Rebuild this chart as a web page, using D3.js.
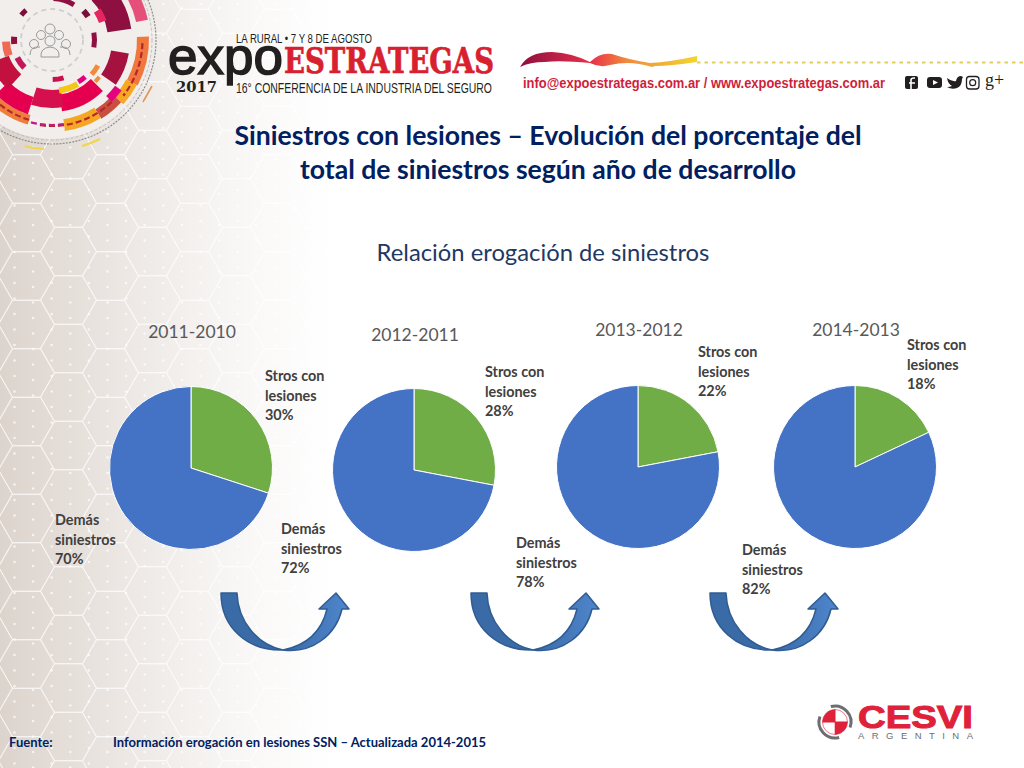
<!DOCTYPE html>
<html>
<head>
<meta charset="utf-8">
<title>Siniestros con lesiones</title>
<script src="https://cdn.jsdelivr.net/npm/d3@7"></script>
<style>
html, body { margin: 0; padding: 0; background: #fff; }
svg { display: block; font-family: Lato, "Open Sans", sans-serif; }
</style>
</head>
<body>
<svg id="chart" width="1024" height="768"></svg>
<script>
// chart values
var periods = ['2011-2010', '2012-2011', '2013-2012', '2014-2013'];
var stros_lesiones = [30, 28, 22, 18];
var demas_siniestros = [70, 72, 78, 82];
var series_names = [['Stros con', 'lesiones'], ['Demás', 'siniestros']];
var series_colors = ['#70ad47', '#4472c4'];

// where things sit on the slide
var pie_x = [191, 414, 638, 855];
var pie_y = [468, 470, 467, 467];
var period_y = [338, 341, 336, 336];
var stros_label = [[265, 381], [485, 377], [698, 357], [907, 350]];
var demas_label = [[55, 525], [281, 534], [516, 548], [742, 555]];
var arrow_x = [0, 250, 489];
var radius = 81.5;

// emblem pieces: r0, r1, start deg, end deg, colour
var emblem_arcs = [
	// outer band
	[85, 97, 88, 118, '#f0783c'], [84, 96, 118, 132, '#f7a823'], [82, 93, 132, 148, '#c9503f'],
	[80, 92, 148, 172, '#f5a623'], [80, 90, 172, 196, '#f4f0ee'], [78, 88, 196, 226, '#ef7d3b'],
	[86, 98, 62, 78, '#e5507a'], [86, 97, 50, 62, '#e5268a'],
	// big blocks
	[56, 80, 45, 82, '#8e1040'], [60, 78, 100, 125, '#a5123f'], [55, 72, 135, 172, '#e5004f'],
	[50, 68, 170, 198, '#d6104f'], [60, 78, 198, 226, '#e5004f'], [46, 66, 222, 250, '#c2103f'],
	[64, 72, 248, 258, '#d6104f'],
	// small pieces
	[50, 58, 57, 70, '#e5265f'], [40, 45, 80, 100, '#8e1040'], [40, 46, 47, 57, '#7a0f3c'],
	[39, 44, 2, 32, '#8e1040'], [37, 42, 309, 319, '#7a0f3c'], [35, 41, 264, 275, '#8e1040'],
	[42, 50, 250, 268, '#ef6a55'], [36, 42, 225, 243, '#c2185b'], [37, 42, 163, 179, '#c8104e'],
	[48, 54, 150, 172, '#f5c518'], [50, 55, 119, 131, '#f08a3c'], [47, 52, 138, 148, '#e5007d'],
	[58, 62, 128, 134, '#f08a3c'], [78, 86, 126, 136, '#e5007d']
];
var emblem_dashes = [
	[90.5, 92, 128, '#b3272d'], [86, 136, 190, '#b3272d'], [83, 196, 228, '#b3272d'], [85, 172, 196, '#c2188b']
];
var emblem_x = 52, emblem_y = 40;

var svg = d3.select('#chart');
var defs = svg.append('defs');

var bg_grad = defs.append('linearGradient').attr('id', 'bg_grad');
bg_grad.append('stop').attr('offset', '0').attr('stop-color', '#dcd3cc');
bg_grad.append('stop').attr('offset', '0.35').attr('stop-color', '#ebe6e2');
bg_grad.append('stop').attr('offset', '0.7').attr('stop-color', '#f8f6f5');
bg_grad.append('stop').attr('offset', '1').attr('stop-color', '#ffffff');
svg.append('rect').attr('width', 330).attr('height', 768).attr('fill', 'url(#bg_grad)');

// hexagons and dots of the slide background
var back = svg.append('g').attr('stroke', '#fff').attr('fill', 'none').attr('stroke-opacity', 0.6);
var hex = d3.lineRadial().curve(d3.curveLinearClosed)
	.angle(function(d) { return d; }).radius(27.8);
var hex_angles = d3.range(6).map(function(i) { return Math.PI / 6 + i * Math.PI / 3; });
for (var c = -1; c < 9; c++) {
	for (var r = -1; r < 17; r++) {
		back.append('path')
			.attr('d', hex(hex_angles))
			.attr('transform', 'translate(' + (26.5 + 42 * c) + ',' + (179 + 48.5 * r + (c % 2 ? 24 : 0) - 194) + ')');
	}
}
for (var dx = 0; dx < 18; dx++) {
	for (var dy = 0; dy < 52; dy++) {
		back.append('circle').attr('cx', 14.5 + dx * 18.6).attr('cy', 4 + dy * 15.5 + (dx % 2 ? 4 : 0))
			.attr('r', 1.3).attr('fill', '#fff').attr('stroke', 'none').attr('fill-opacity', 0.7);
	}
}

// emblem, top left corner
var emblem = svg.append('g').attr('transform', 'translate(' + emblem_x + ',' + emblem_y + ')');
emblem.append('circle').attr('r', 99).attr('fill', '#f1eeec');
emblem.append('circle').attr('r', 104).attr('fill', 'none').attr('stroke', '#8c8c8c').attr('stroke-width', 1.2).attr('stroke-dasharray', '2 1.2');
emblem.append('circle').attr('r', 100).attr('fill', 'none').attr('stroke', '#b8b8b8').attr('stroke-width', 0.8).attr('stroke-dasharray', '3 2');
emblem.append('circle').attr('r', 31).attr('fill', 'none').attr('stroke', '#cfcfcf').attr('stroke-width', 1.8).attr('stroke-dasharray', '5 4');
var emblem_arc = d3.arc();
emblem.selectAll('path.piece').data(emblem_arcs).enter().append('path')
	.attr('class', 'piece')
	.attr('fill', function(d) { return d[4]; })
	.attr('d', function(d) {
		return emblem_arc({innerRadius: d[0], outerRadius: d[1], startAngle: d[2] * Math.PI / 180, endAngle: d[3] * Math.PI / 180});
	});
emblem_dashes.forEach(function(d) {
	var p = d3.path();
	p.arc(0, 0, d[0], (d[1] - 90) * Math.PI / 180, (d[2] - 90) * Math.PI / 180);
	emblem.append('path').attr('d', p.toString()).attr('fill', 'none').attr('stroke', d[3])
		.attr('stroke-width', 2.2).attr('stroke-dasharray', '6 3');
});
var people = emblem.append('g').attr('transform', 'translate(-2,3)').attr('fill', '#f1eeec').attr('stroke', '#9a9a9a').attr('stroke-width', 1);
[[0, -14, 5], [-9, -8, 4.5], [9, -8, 4.5], [-16, 1, 4.5], [16, 1, 4.5]].forEach(function(p) {
	people.append('circle').attr('cx', p[0]).attr('cy', p[1]).attr('r', p[2]);
});
people.append('path').attr('d', 'M-20,12 Q-20,3 -10,4 M20,12 Q20,3 10,4').attr('fill', 'none');
people.append('circle').attr('cx', 0).attr('cy', -2).attr('r', 5);
people.append('path').attr('d', 'M-9,14 Q-10,5 0,4 Q10,5 9,14 Z');
svg.append('path').attr('d', 'M143,102 L152,86').attr('stroke', '#dd9a5a').attr('stroke-width', 1.6);
svg.append('path').attr('d', 'M25,146 Q34,149 44,149 M82,146 Q92,143 100,139').attr('stroke', '#f2d44e').attr('stroke-width', 2).attr('fill', 'none');

// event logo
function fit(x, y, size, len, txt, fill, weight, family, adjust) {
	return svg.append('text').attr('x', x).attr('y', y).attr('font-size', size)
		.attr('font-family', family || 'Liberation Sans').attr('font-weight', weight || 'normal')
		.attr('fill', fill).attr('textLength', len).attr('lengthAdjust', adjust || 'spacingAndGlyphs').text(txt);
}
fit(236, 43, 12.5, 136, 'LA RURAL • 7 Y 8 DE AGOSTO', '#231f20');
fit(168, 74, 52, 115, 'expo', '#231f20').attr('stroke', '#231f20').attr('stroke-width', 1.5);
fit(284, 73, 36, 210, 'ESTRATEGAS', '#d9202f', 'bold', 'DejaVu Serif').attr('stroke', '#d9202f').attr('stroke-width', 0.7);
fit(176, 92, 14, 41, '2017', '#231f20', 'bold', 'DejaVu Serif');
fit(236, 92.5, 14.5, 256, '16° CONFERENCIA DE LA INDUSTRIA DEL SEGURO', '#231f20');

// contact band
var band = defs.append('linearGradient').attr('id', 'band');
band.append('stop').attr('offset', '0').attr('stop-color', '#8c1040');
band.append('stop').attr('offset', '0.4').attr('stop-color', '#e8304a');
band.append('stop').attr('offset', '0.6').attr('stop-color', '#f08a3c');
band.append('stop').attr('offset', '1').attr('stop-color', '#f2d62e');
svg.append('path').attr('d', 'M520,67 Q528,52 552,52 Q572,53 590,62 Q600,52 612,54 Q630,60 650,63 Q670,62 697,56 L697,62 Q670,66 655,66 L652,67 Q630,60 610,65 Q600,68 590,63 Q560,60 545,62 Q530,62 520,67 Z')
	.attr('fill', 'url(#band)');
svg.append('line').attr('x1', 697).attr('x2', 1024).attr('y1', 62.5).attr('y2', 62.5)
	.attr('stroke', '#e3cf5a').attr('stroke-width', 2).attr('stroke-dasharray', '3.5 4');
fit(523, 88, 15.5, 362, 'info@expoestrategas.com.ar / www.expoestrategas.com.ar', '#cf1f3c', 'bold');
var social = svg.append('g').attr('fill', '#231f20');
social.append('rect').attr('x', 905).attr('y', 76).attr('width', 13).attr('height', 13).attr('rx', 2);
social.append('path').attr('d', 'M911,89 L911,80 Q911,78 914,78 L915,78 M909,83 L915,83').attr('fill', 'none').attr('stroke', '#fff').attr('stroke-width', 1.6);
social.append('rect').attr('x', 927).attr('y', 77).attr('width', 15).attr('height', 11).attr('rx', 3);
social.append('path').attr('d', 'M933,80 L938,82.5 L933,85 Z').attr('fill', '#fff');
social.append('path').attr('d', 'M947,78 Q952,82 956,81 Q957,76 961,76 L963,77 L962,79 Q962,86 957,88 Q952,90 947,87 Q950,87 952,86 Q948,84 947,78 Z');
social.append('rect').attr('x', 966.5).attr('y', 76.5).attr('width', 12.5).attr('height', 12.5).attr('rx', 3).attr('fill', 'none').attr('stroke', '#231f20').attr('stroke-width', 1.3);
social.append('circle').attr('cx', 972.7).attr('cy', 82.7).attr('r', 3).attr('fill', 'none').attr('stroke', '#231f20').attr('stroke-width', 1.2);
social.append('text').attr('x', 985).attr('y', 86).attr('font-size', 18).attr('font-family', 'Liberation Serif').text('g+');

// headings
var navy = '#002060';
svg.append('text').attr('x', 548).attr('y', 145).attr('text-anchor', 'middle').attr('font-size', 26.6).attr('font-weight', 'bold').attr('fill', navy)
	.text('Siniestros con lesiones – Evolución del porcentaje del');
svg.append('text').attr('x', 548).attr('y', 179).attr('text-anchor', 'middle').attr('font-size', 26.6).attr('font-weight', 'bold').attr('fill', navy)
	.text('total de siniestros según año de desarrollo');
svg.append('text').attr('x', 543).attr('y', 261).attr('text-anchor', 'middle').attr('font-size', 23.8).attr('fill', '#1f3864')
	.text('Relación erogación de siniestros');

// one pie per period, green slice starts at twelve o'clock
var pie = d3.pie().sort(null).value(function(d) { return d; });
var arc = d3.arc().innerRadius(0).outerRadius(radius);

function multiline(x, y, lines) {
	var t = svg.append('text').attr('x', x).attr('y', y).attr('font-size', 14.4).attr('font-weight', 'bold').attr('fill', '#404040');
	lines.forEach(function(l, i) {
		t.append('tspan').attr('x', x).attr('dy', i == 0 ? 0 : 19.5).text(l);
	});
}

periods.forEach(function(period, i) {
	var g = svg.append('g').attr('transform', 'translate(' + pie_x[i] + ',' + pie_y[i] + ')');
	g.selectAll('path').data(pie([stros_lesiones[i], demas_siniestros[i]])).enter().append('path')
		.attr('d', arc)
		.attr('fill', function(d, j) { return series_colors[j]; })
		.attr('stroke', '#fff')
		.attr('stroke-width', 1);
	svg.append('text').attr('x', pie_x[i] + 1).attr('y', period_y[i]).attr('text-anchor', 'middle')
		.attr('font-size', 17.5).attr('fill', '#595959').text(period);
	multiline(stros_label[i][0], stros_label[i][1], series_names[0].concat(stros_lesiones[i] + '%'));
	multiline(demas_label[i][0], demas_label[i][1], series_names[1].concat(demas_siniestros[i] + '%'));
});

// curved arrows between pies
var arrow_grad = defs.append('linearGradient').attr('id', 'arrow_grad');
arrow_grad.append('stop').attr('offset', '0').attr('stop-color', '#3a6aa8');
arrow_grad.append('stop').attr('offset', '1').attr('stop-color', '#4f86cc');
arrow_x.forEach(function(dx) {
	var g = svg.append('g').attr('transform', 'translate(' + dx + ',0)').attr('stroke', '#2f5c92').attr('stroke-width', 1.5).attr('stroke-linejoin', 'round');
	g.append('path').attr('fill', '#3a6ba6')
		.attr('d', 'M221,593 L237,593 C238,622 258,645 283,650 C248,651 221,628 221,593 Z');
	g.append('path').attr('fill', 'url(#arrow_grad)')
		.attr('d', 'M283,650 C308,645 322,630 327,609 L319,609 L336,593 L349,609 L342,609 C336,635 312,654 283,650 Z');
});

// footer
svg.append('text').attr('x', 9).attr('y', 747).attr('font-size', 13).attr('font-weight', 'bold').attr('fill', navy).text('Fuente:');
svg.append('text').attr('x', 113).attr('y', 747).attr('font-size', 13).attr('font-weight', 'bold').attr('fill', navy)
	.text('Información erogación en lesiones SSN – Actualizada 2014-2015');

// CESVI logo
var cesvi = svg.append('g').attr('transform', 'translate(835,722)');
var quarter = d3.arc().innerRadius(0).outerRadius(12.5);
[0, 1, 2, 3].forEach(function(q) {
	cesvi.append('path').attr('fill', q % 2 ? '#e0213a' : '#fff').attr('stroke', '#e0213a').attr('stroke-width', 0.6)
		.attr('d', quarter({startAngle: q * Math.PI / 2, endAngle: (q + 1) * Math.PI / 2}));
});
var ring = d3.arc().innerRadius(14.5).outerRadius(17.5);
[[-15, 110], [165, 290]].forEach(function(a) {
	cesvi.append('path').attr('fill', '#6d6e71')
		.attr('d', ring({startAngle: a[0] * Math.PI / 180, endAngle: a[1] * Math.PI / 180}));
});
fit(858, 728, 32, 115, 'CESVI', '#e0213a', 'bold').attr('stroke', '#e0213a').attr('stroke-width', 1);
fit(858, 739, 9.5, 115, 'ARGENTINA', '#6d6e71', 'normal', 'Liberation Sans', 'spacing');
</script>
</body>
</html>
